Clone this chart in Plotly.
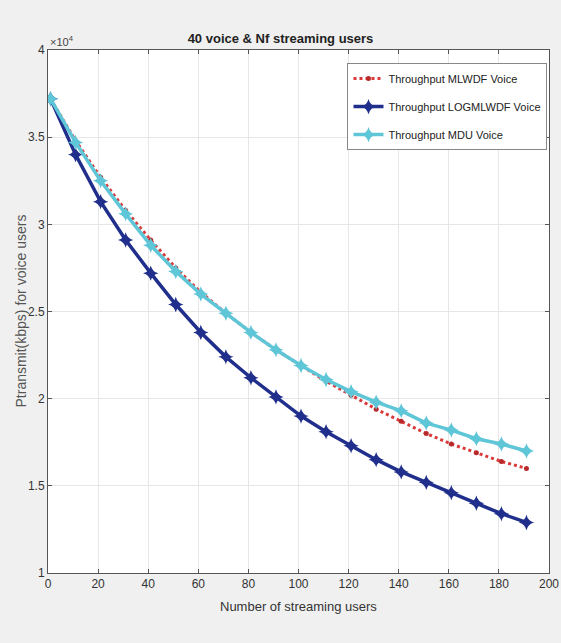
import plotly.graph_objects as go

x_users = [1, 11, 21, 31, 41, 51, 61, 71, 81, 91, 101, 111, 121, 131, 141, 151, 161, 171, 181, 191]
mlwdf = [3.72, 3.48, 3.27, 3.08, 2.91, 2.75, 2.61, 2.49, 2.38, 2.28, 2.19, 2.10, 2.02, 1.94, 1.87, 1.80, 1.74, 1.69, 1.64, 1.60]
logmlwdf = [3.72, 3.40, 3.13, 2.91, 2.72, 2.54, 2.38, 2.24, 2.12, 2.01, 1.90, 1.81, 1.73, 1.65, 1.58, 1.52, 1.46, 1.40, 1.34, 1.29]
mdu = [3.72, 3.47, 3.25, 3.06, 2.88, 2.73, 2.60, 2.49, 2.38, 2.28, 2.19, 2.11, 2.04, 1.98, 1.93, 1.86, 1.82, 1.77, 1.74, 1.70]
names = ["Throughput MLWDF Voice", "Throughput LOGMLWDF Voice", "Throughput MDU Voice"]
x_ticks = [0, 20, 40, 60, 80, 100, 120, 140, 160, 180, 200]
y_ticks = [1, 1.5, 2, 2.5, 3, 3.5, 4]
y_ticktext = ["1", "1.5", "2", "2.5", "3", "3.5", "4"]

FONT = "Liberation Sans Narrow, Liberation Sans, Arial"

fig = go.Figure()
fig.add_trace(go.Scatter(x=x_users, y=mlwdf, name=names[0], mode="lines+markers",
                         legendgroup="a",
                         line=dict(color="#d93a3a", width=3, dash="dot"),
                         marker=dict(symbol="circle", size=5, color="#b82a2a")))
fig.add_trace(go.Scatter(x=x_users, y=logmlwdf, name=names[1], mode="lines+markers",
                         legendgroup="b",
                         line=dict(color="#202f8c", width=3.5),
                         marker=dict(symbol="star-diamond", size=11, color="#202f8c")))
fig.add_trace(go.Scatter(x=x_users, y=mdu, name=names[2], mode="lines+markers",
                         legendgroup="c",
                         line=dict(color="#5fc6d8", width=3.5),
                         marker=dict(symbol="star-diamond", size=11, color="#5fc6d8")))

axis_common = dict(showline=True, linecolor="#555555", linewidth=1, mirror="ticks",
                   ticks="inside", ticklen=4, tickcolor="#555555", automargin=False,
                   showgrid=True, gridcolor="#e6e6e6", gridwidth=1, zeroline=False,
                   tickfont=dict(family=FONT, size=12, color="#333333"))

fig.update_layout(
    width=561, height=643,
    paper_bgcolor="#f0f0f0", plot_bgcolor="#ffffff",
    margin=dict(l=48, r=12, t=50, b=70),
    title=dict(text="<b>40 voice & Nf streaming users</b>", x=0.5, xanchor="center",
               y=1 - 38 / 643, yanchor="middle",
               font=dict(family=FONT, size=13, color="#222222")),
    xaxis=dict(range=[0, 200], tickvals=x_ticks, **axis_common),
    yaxis=dict(range=[1, 4], tickvals=y_ticks, ticktext=y_ticktext, **axis_common),
    legend=dict(x=0.997, y=0.975, xanchor="right", yanchor="top",
                bgcolor="#ffffff", bordercolor="#888888", borderwidth=1,
                font=dict(family=FONT, size=11, color="#222222"),
                itemwidth=30, tracegroupgap=9, traceorder="grouped"),
    showlegend=True,
)

fig.add_annotation(text="×10<sup>4</sup>", xref="paper", yref="paper", x=0, y=1.0,
                   xanchor="left", yanchor="bottom", showarrow=False,
                   font=dict(family=FONT, size=11, color="#444444"))
fig.add_annotation(text="Number of streaming users", xref="paper", yref="paper",
                   x=0.5, y=-24 / 523, xanchor="center", yanchor="top", showarrow=False,
                   font=dict(family=FONT, size=13, color="#333333"))
fig.add_annotation(text="Ptransmit(kbps) for voice users", xref="paper", yref="paper",
                   x=-18 / 501, y=0.5, xanchor="right", yanchor="middle", textangle=-90,
                   showarrow=False, font=dict(family=FONT, size=14, color="#555555"))

fig.write_html("out.html")
